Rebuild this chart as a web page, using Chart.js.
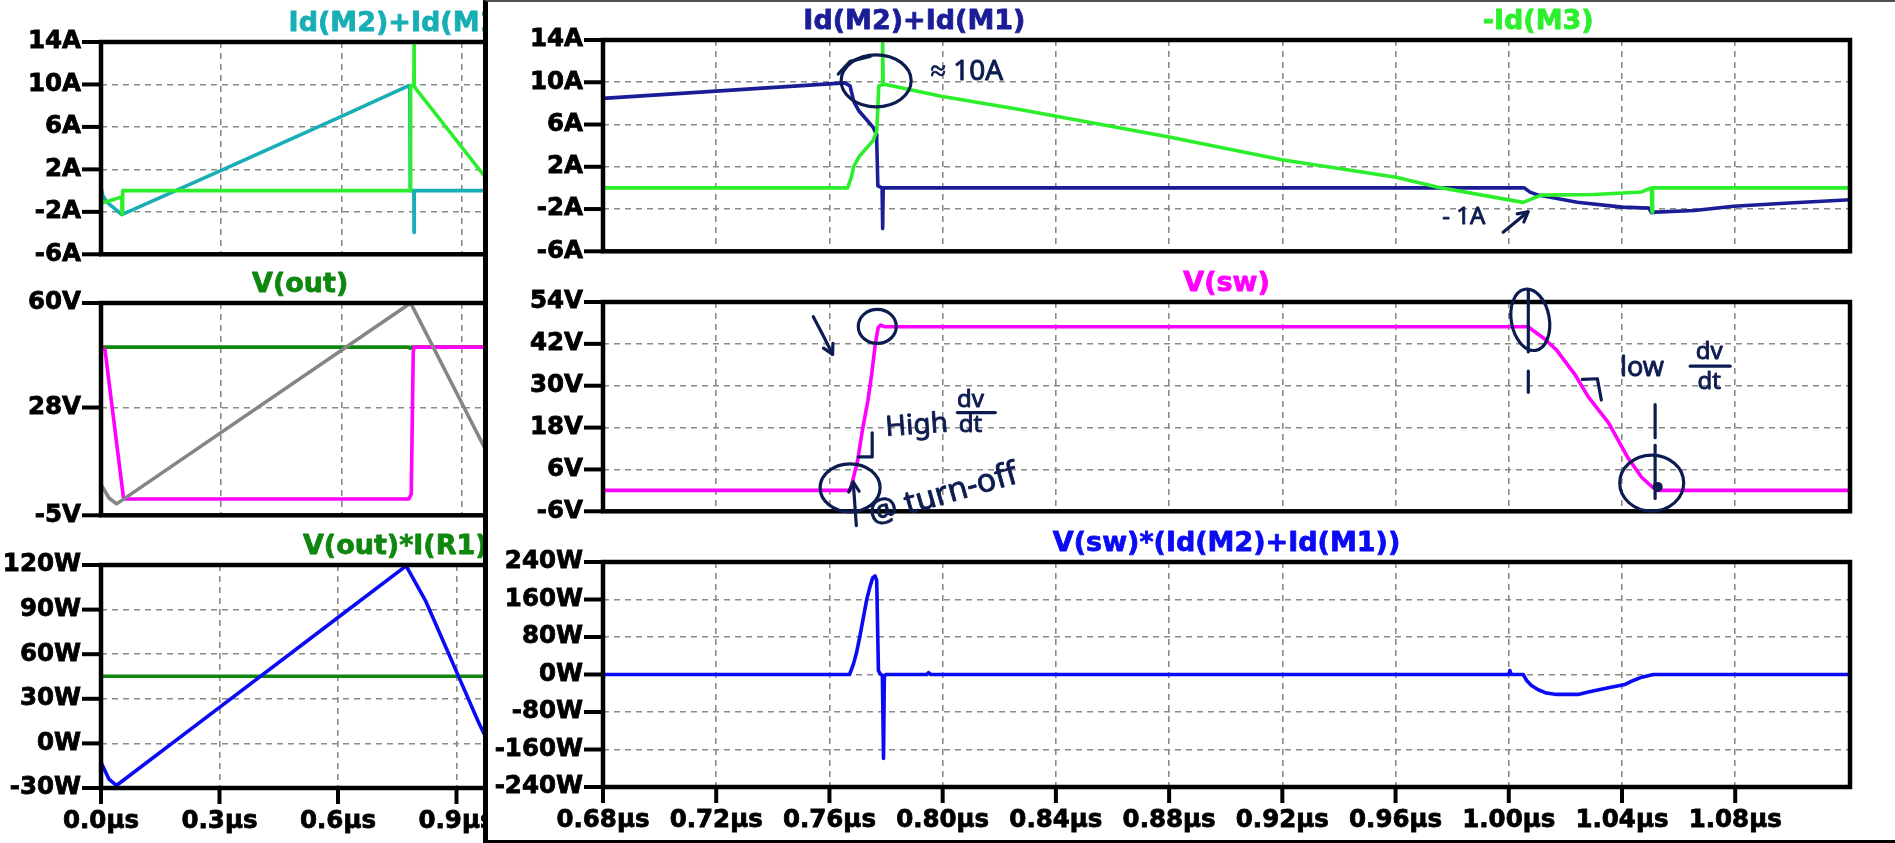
<!DOCTYPE html>
<html><head><meta charset="utf-8">
<script src="https://cdn.jsdelivr.net/npm/chart.js@4.4.1/dist/chart.umd.min.js"></script>
<style>
html,body{margin:0;padding:0;background:#fff;width:1895px;height:843px;overflow:hidden;position:relative}
canvas{position:absolute}
#rwin{position:absolute;left:483px;top:0;width:1412px;height:843px;background:#fff;box-sizing:border-box;border-left:5px solid #000;border-top:2px solid #505050;border-bottom:3px solid #000;z-index:2}
</style></head><body>
<div id="rwin"></div>
<script>
// ---------- DATA (times in µs) ----------
// Right window, pane 1: Id(M2)+Id(M1) and -Id(M3)  [A]
const tR_idM12 = [0.68,0.7654,0.7673,0.7686,0.7705,0.773,0.7755,0.7765,0.7767,0.7771,0.7786,0.7788,0.7790,1.0006,1.0055,1.0075,1.0104,1.0242,1.04,1.0495,1.0504,1.0518,1.0656,1.0794,1.0991,1.1206];
const iR_idM12 = [8.47,9.94,9.64,8.17,7.25,6.5,5.7,5.1,4.5,0.2,0,-3.85,0,0,0,-0.4,-0.68,-1.36,-1.82,-1.91,-2.35,-2.29,-2.14,-1.74,-1.43,-1.12];
const tR_idM3 = [0.68,0.7664,0.7677,0.7686,0.7705,0.773,0.7755,0.7767,0.7771,0.7774,0.7786,0.7788,0.7790,0.7869,0.7995,0.8272,0.88,0.9198,0.9602,0.975,1.0051,1.0114,1.0301,1.0469,1.0495,1.0504,1.0506,1.0508,1.1206];
const iR_idM3 = [0,0,0.98,2.05,2.97,3.74,4.5,5.4,7.56,9.65,9.75,13.7,9.84,9.38,8.67,7.42,4.81,2.67,1.0,0.07,-1.37,-0.68,-0.62,-0.38,-0.09,0,-2.3,0,0];
// Right window, pane 2: V(sw) [V]
const tR_vsw = [0.68,0.7673,0.7682,0.7699,0.7717,0.7736,0.7749,0.7762,0.7772,0.7781,0.7795,1.0068,1.0127,1.0169,1.0234,1.0281,1.0352,1.0422,1.047,1.0505,1.0523,1.1206];
const vR_vsw = [0,0,2.8,8.3,17.5,25.8,33.2,42.0,46.6,47.4,46.9,46.9,43.4,40.2,33.2,26.8,19.4,9.2,3.7,1.1,0,0];
// Right window, pane 3: V(sw)*(Id(M2)+Id(M1)) [W]
const tR_pw = [0.68,0.7671,0.7685,0.7696,0.7708,0.772,0.7732,0.7744,0.7753,0.7761,0.7767,0.7771,0.7773,0.7779,0.7787,0.7791,0.7794,0.7802,0.7944,0.795,0.7958,1.0,1.0004,1.0009,1.0051,1.0063,1.008,1.0104,1.0133,1.0169,1.0245,1.0281,1.0352,1.0411,1.044,1.047,1.0511,1.1206];
const pR_pw = [0,0,22.7,47.4,82.8,121.8,160.7,189,206.7,210.3,201,72,8.5,1.4,-2,-179,-2,0,0,4,0,0,8.5,0,0,-12.7,-23.4,-32.6,-39.6,-42.5,-42.5,-37.5,-28.3,-21.2,-12.7,-5.7,0,0];
// Left window, pane 1 [A]
const tL_idM12 = [0,0.004,0.014,0.052,0.3,0.6,0.768,0.7705,0.7715,0.7805,0.781,0.7815,1.0,1.006,1.01,1.05];
const iL_idM12 = [0.35,-0.43,-1.05,-2.27,1.9,7.0,9.9,9.5,0,0,-3.95,0,0,0,-0.7,-2.2];
const tL_idM3 = [0,0.052,0.0525,0.054,0.7712,0.7725,0.7805,0.781,0.7815,0.956,1.005,1.011,1.05];
const iL_idM3 = [-1.2,-0.6,-2.2,0,0,9.9,9.9,13.7,9.8,1.4,-1.3,-0.7,-0.1];
// Left window, pane 2 [V]
const tL_vout = [0,0.768,0.771,0.775,1.05];
const vL_vout = [46.5,46.5,46.1,46.5,46.5];
const tL_vsw = [0,0.01,0.0558,0.06,0.768,0.774,0.779,0.781,1.007,1.03,1.052,1.06];
const vL_vsw = [46.5,45.6,0.5,0,0,1.5,45,46.5,46.5,26,0,0];
const tL_gray = [0,0.02,0.039,0.7725,0.956,1.0];
const vL_gray = [4.4,0.3,-1.5,60,15.9,5.3];
// Left window, pane 3 [W]
const tL_pout = [0,1.05];
const pL_pout = [45.2,45.2];
const tL_pw = [0,0.02,0.039,0.3,0.6,0.7725,0.8225,0.8975,0.956,1.0];
const pL_pw = [-12.7,-24,-28.3,24.2,84.7,119.4,95.5,49.8,14,-10];

// ---------- TICKS ----------
const xTicksR = [0.68,0.72,0.76,0.80,0.84,0.88,0.92,0.96,1.00,1.04,1.08];
const xLabelsR = ['0.68µs','0.72µs','0.76µs','0.80µs','0.84µs','0.88µs','0.92µs','0.96µs','1.00µs','1.04µs','1.08µs'];
const xTicksL = [0,0.3,0.6,0.9,1.2];
const xLabelsL = ['0.0µs','0.3µs','0.6µs','0.9µs','1.2µs'];
const yTicksA = [14,10,6,2,-2,-6];
const yLabelsA = ['14A','10A','6A','2A','-2A','-6A'];
const yTicksVsw = [54,42,30,18,6,-6];
const yLabelsVsw = ['54V','42V','30V','18V','6V','-6V'];
const yTicksPR = [240,160,80,0,-80,-160,-240];
const yLabelsPR = ['240W','160W','80W','0W','-80W','-160W','-240W'];
const yTicksVL = [60,28,-5];
const yLabelsVL = ['60V','28V','-5V'];
const yTicksPL = [120,90,60,30,0,-30];
const yLabelsPL = ['120W','90W','60W','30W','0W','-30W'];

// ---------- STYLE ----------
const C_NAVY='#1a1d96', C_LIME='#2bef2b', C_MAG='#ff00ff', C_BLUE='#0a0af5', C_TEAL='#18aeb6', C_DKGRN='#0f870f', C_GRAY='#858585';
const INK='#0d1c50', GRID='#8a8a8a';
const TICKFONT={family:'DejaVu Sans',size:24.5,weight:'bold'};

// handwritten notes (data coordinates)
const annR1 = [
 {k:'ell',t:0.7765,v:10.14,rx:35,ry:26},
 {k:'path',p:[[0.7631,10.78],[0.7673,11.98],[0.7744,12.44]]},
 {k:'txt',t:0.7957,v:10.2,s:28,txt:'≈ 10A'},
 {k:'txt',t:0.9765,v:-3.46,s:24,txt:'- 1A'},
 {k:'path',p:[[0.998,-4.19],[1.0068,-2.26]],arrow:true}
];
const annR2 = [
 {k:'path',p:[[0.7543,49.8],[0.7575,44.8],[0.7611,39.0]],arrow:true},
 {k:'ell',t:0.7769,v:47.0,rx:19,ry:17},
 {k:'path',p:[[0.7751,16.5],[0.7751,9.6],[0.7702,9.6]]},
 {k:'txt',t:0.78,v:15.6,s:28,txt:'High',rot:-4},
 {k:'txt',t:0.8098,v:24.0,s:24,txt:'dv',al:'center'},
 {k:'path',p:[[0.8052,22.3],[0.8186,22.3]]},
 {k:'txt',t:0.8098,v:16.8,s:24,txt:'dt',al:'center'},
 {k:'ell',t:0.7673,v:0.73,rx:30,ry:24},
 {k:'path',p:[[0.7695,-10.1],[0.7684,2.4]],arrow:true},
 {k:'txt',t:0.7751,v:-9.8,s:32,txt:'@ turn-off',rot:-16},
 {k:'ell',t:1.0076,v:48.9,rx:19,ry:31,rot:-10},
 {k:'path',p:[[1.0069,57.2],[1.0069,39.7]]},
 {k:'path',p:[[1.0069,34.2],[1.0069,28.1]]},
 {k:'path',p:[[1.026,31.8],[1.0313,32.0],[1.0327,25.9]]},
 {k:'txt',t:1.0393,v:32.9,s:27,txt:'low'},
 {k:'txt',t:1.0708,v:37.6,s:24,txt:'dv',al:'center'},
 {k:'path',p:[[1.0641,35.6],[1.0782,35.6]]},
 {k:'txt',t:1.0708,v:29.0,s:24,txt:'dt',al:'center'},
 {k:'path',p:[[1.0517,24.6],[1.0517,15.1]]},
 {k:'ell',t:1.0505,v:2.1,rx:32,ry:28},
 {k:'dot',t:1.0526,v:1.0,r:5},
 {k:'path',p:[[1.0517,12.9],[1.0517,-2.3]]}
];

function pane(o){
  const c=document.createElement('canvas');
  const YW=120, TP=45, RP=o.rp, BP=o.xl?0:28, XH=o.xl?56:0;
  const pw=Math.round(o.R-o.L), ph=Math.round(o.B-o.T);
  c.width=YW+pw+RP; c.height=TP+ph+BP+XH;
  c.style.left=(Math.round(o.L)-YW)+'px'; c.style.top=(Math.round(o.T)-TP)+'px';
  c.style.width=c.width+'px'; c.style.height=c.height+'px';
  c.style.zIndex=o.z;
  document.body.appendChild(c);
  const n=o.series.length;
  const plug={id:'lt',afterDraw(ch){
    const ctx=ch.ctx,a=ch.chartArea,xs=ch.scales.x,ys=ch.scales.y;
    const px=t=>xs.getPixelForValue(t), py=v=>ys.getPixelForValue(v);
    ctx.save();
    ctx.strokeStyle='#000'; ctx.lineCap='butt'; ctx.lineWidth=4;
    ys.ticks.forEach(t=>{const p=py(t.value);ctx.beginPath();ctx.moveTo(a.left-19,p);ctx.lineTo(a.left,p);ctx.stroke();});
    if(o.xl) xs.ticks.forEach(t=>{const p=px(t.value);ctx.beginPath();ctx.moveTo(p,a.bottom);ctx.lineTo(p,a.bottom+16);ctx.stroke();});
    ctx.lineWidth=4.5; ctx.strokeRect(a.left,a.top,a.right-a.left,a.bottom-a.top);
    ctx.font='bold 27px "DejaVu Sans"'; ctx.textAlign='center'; ctx.textBaseline='alphabetic'; ctx.lineWidth=0.8; ctx.lineJoin='round';
    o.titles.forEach(t=>{ctx.fillStyle=t.color;ctx.strokeStyle=t.color;ctx.fillText(t.text,px(t.t),a.top-11);ctx.strokeText(t.text,px(t.t),a.top-11);});
    ctx.strokeStyle=INK; ctx.fillStyle=INK; ctx.lineWidth=3.2; ctx.lineCap='round'; ctx.lineJoin='round';
    (o.annots||[]).forEach(an=>{
      if(an.k==='ell'){ctx.beginPath();ctx.ellipse(px(an.t),py(an.v),an.rx,an.ry,(an.rot||0)*Math.PI/180,0,2*Math.PI);ctx.stroke();}
      else if(an.k==='path'){
        ctx.beginPath();
        an.p.forEach((q,i)=>{const X=px(q[0]),Y=py(q[1]); if(i)ctx.lineTo(X,Y); else ctx.moveTo(X,Y);});
        ctx.stroke();
        if(an.arrow){const m=an.p.length;const x2=px(an.p[m-1][0]),y2=py(an.p[m-1][1]),x1=px(an.p[m-2][0]),y1=py(an.p[m-2][1]);
          const ang=Math.atan2(y2-y1,x2-x1),L=11,w=0.5;
          ctx.beginPath();ctx.moveTo(x2-L*Math.cos(ang-w),y2-L*Math.sin(ang-w));ctx.lineTo(x2,y2);ctx.lineTo(x2-L*Math.cos(ang+w),y2-L*Math.sin(ang+w));ctx.stroke();}
      }
      else if(an.k==='txt'){ctx.save();ctx.translate(px(an.t),py(an.v));ctx.rotate((an.rot||0)*Math.PI/180);
        ctx.font=an.s+'px "Noto Sans"';ctx.textAlign=an.al||'left';ctx.textBaseline='alphabetic';ctx.lineWidth=0.9;ctx.fillText(an.txt,0,0);ctx.strokeText(an.txt,0,0);ctx.restore();}
      else if(an.k==='dot'){ctx.beginPath();ctx.arc(px(an.t),py(an.v),an.r,0,2*Math.PI);ctx.fill();}
    });
    ctx.restore();
  }};
  new Chart(c,{type:'line',
    data:{datasets:o.series.map((s,i)=>({data:s.t.map((t,j)=>({x:t,y:s.v[j]})),borderColor:s.color,borderWidth:3.6,pointRadius:0,tension:0,fill:false,order:n-i,borderJoinStyle:'round',borderCapStyle:'round'}))},
    options:{responsive:false,animation:false,devicePixelRatio:1,
      layout:{padding:{top:TP,right:RP,bottom:BP,left:0}},
      plugins:{legend:{display:false},tooltip:{enabled:false}},
      scales:{
        x:{type:'linear',min:o.xmin,max:o.xmax,
           afterBuildTicks:s=>{s.ticks=o.xt.map(v=>({value:v}));},
           afterFit:s=>{s.height=XH;},
           ticks:{display:!!o.xl,autoSkip:false,maxRotation:0,padding:19,font:TICKFONT,color:'#000',textStrokeColor:'#000',textStrokeWidth:0.8,callback:(v,i)=>o.xl?o.xl[i]:''},
           grid:{color:GRID,lineWidth:1.6,drawTicks:false},border:{display:false,dash:[6,5]}},
        y:{type:'linear',min:o.ymin,max:o.ymax,
           afterBuildTicks:s=>{s.ticks=o.yt.map(v=>({value:v}));},
           afterFit:s=>{s.width=YW;},
           ticks:{autoSkip:false,padding:20,font:TICKFONT,color:'#000',textStrokeColor:'#000',textStrokeWidth:0.8,callback:(v,i)=>o.yl[i]},
           grid:{color:GRID,lineWidth:1.6,drawTicks:false},border:{display:false,dash:[6,5]}}
      }},
    plugins:[plug]});
}

// ---------- LEFT WINDOW ----------
const LX={L:101,R:582,xmin:0,xmax:1.2,xt:xTicksL,rp:50,z:1};
pane(Object.assign({},LX,{T:42,B:261,ymin:-6,ymax:14,yt:yTicksA,yl:yLabelsA,
  titles:[{text:'Id(M2)+Id(M1)',color:C_TEAL,t:0.745}],
  series:[{t:tL_idM12,v:iL_idM12,color:C_TEAL},{t:tL_idM3,v:iL_idM3,color:C_LIME}]}));
pane(Object.assign({},LX,{T:303,B:522,ymin:-5,ymax:60,yt:yTicksVL,yl:yLabelsVL,
  titles:[{text:'V(out)',color:C_DKGRN,t:0.497}],
  series:[{t:tL_vout,v:vL_vout,color:C_DKGRN},{t:tL_vsw,v:vL_vsw,color:C_MAG},{t:tL_gray,v:vL_gray,color:C_GRAY}]}));
pane(Object.assign({},LX,{T:565,B:788,ymin:-30,ymax:120,yt:yTicksPL,yl:yLabelsPL,xl:xLabelsL,
  titles:[{text:'V(out)*I(R1)',color:C_DKGRN,t:0.745}],
  series:[{t:tL_pout,v:pL_pout,color:C_DKGRN},{t:tL_pw,v:pL_pw,color:C_BLUE}]}));

// ---------- RIGHT WINDOW ----------
const RX={L:603,R:1850,xmin:0.68,xmax:1.12055,xt:xTicksR,rp:30,z:3};
pane(Object.assign({},RX,{T:40,B:258,ymin:-6,ymax:14,yt:yTicksA,yl:yLabelsA,annots:annR1,
  titles:[{text:'Id(M2)+Id(M1)',color:C_NAVY,t:0.79},{text:'-Id(M3)',color:C_LIME,t:1.0104}],
  series:[{t:tR_idM12,v:iR_idM12,color:C_NAVY},{t:tR_idM3,v:iR_idM3,color:C_LIME}]}));
pane(Object.assign({},RX,{T:302,B:518,ymin:-6,ymax:54,yt:yTicksVsw,yl:yLabelsVsw,annots:annR2,
  titles:[{text:'V(sw)',color:C_MAG,t:0.9003}],
  series:[{t:tR_vsw,v:vR_vsw,color:C_MAG}]}));
pane(Object.assign({},RX,{T:562,B:787,ymin:-240,ymax:240,yt:yTicksPR,yl:yLabelsPR,xl:xLabelsR,
  titles:[{text:'V(sw)*(Id(M2)+Id(M1))',color:C_BLUE,t:0.9003}],
  series:[{t:tR_pw,v:pR_pw,color:C_BLUE}]}));
</script></body></html>
